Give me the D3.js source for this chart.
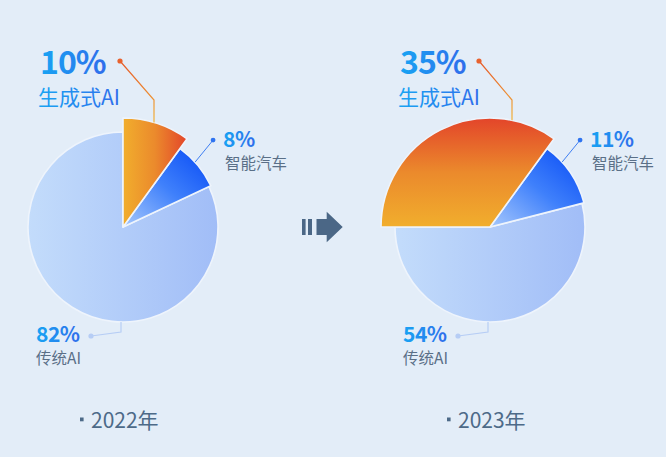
<!DOCTYPE html>
<html>
<head>
<meta charset="utf-8">
<script src="https://cdn.jsdelivr.net/npm/d3@7"></script>
<style>
  html, body { margin: 0; padding: 0; background: #e3edf8; }
  svg { display: block; }
</style>
</head>
<body>
<div id="chart"></div>
<script>
// data
const years = ["2022年", "2023年"];
const categories = ["生成式AI", "智能汽车", "传统AI"];
const share2022 = [10, 8, 82];
const share2023 = [35, 11, 54];

const width = 666;
const height = 457;
const font = "'Noto Sans CJK SC', 'Noto Sans', sans-serif";

// layout for each pie (left / right)
const layout = [
  { cx: 123, cy: 227, genX: 40, genDot: -3, genElbow: 31, orangeDir: [0, 0, 1, 0] },
  { cx: 490, cy: 227, genX: 400, genDot: -11, genElbow: 22, orangeDir: [0, 1, 0, 0] }
];
const radii = [109, 97, 95];

const svg = d3.select("#chart").append("svg")
  .attr("width", width)
  .attr("height", height);

svg.append("rect").attr("width", width).attr("height", height).attr("fill", "#e3edf8");

const defs = svg.append("defs");
const lin = (id, x1, y1, x2, y2, stops) => {
  const g = defs.append("linearGradient").attr("id", id)
    .attr("x1", x1).attr("y1", y1).attr("x2", x2).attr("y2", y2);
  stops.forEach((c, i) => g.append("stop").attr("offset", i / (stops.length - 1)).attr("stop-color", c));
};
layout.forEach((l, i) => {
  const [x1, y1, x2, y2] = l.orangeDir;
  lin("orange" + i, x1, y1, x2, y2, ["#f1ae2d", "#eb8a2c", "#e3452a"]);
});
lin("blue", 0, 1, 1, 0, ["#a6c8fc", "#3f80fb", "#0548f5"]);
lin("light", 0, 0, 1, 0, ["#c3dcfb", "#a1bdf7"]);
lin("pct", 0, 0, 1, 0, ["#18a4f3", "#2f6deb"]);
lin("orangeLine", 0, 0, 0, 1, ["#e65a2a", "#f1b43a"]);

const sliceFill = (i, p) => i === 0 ? `url(#orange${p})` : i === 1 ? "url(#blue)" : "url(#light)";
const turn = 2 * Math.PI;

[share2022, share2023].forEach((shares, p) => {
  const l = layout[p];
  // orange slice always ends at the 10% mark
  const start = 0.1 * turn - shares[0] / 100 * turn;
  const pie = d3.pie().sort(null).value(d => d.value).startAngle(start).endAngle(start + turn);
  const arcs = pie(shares.map((v, i) => ({ name: categories[i], value: v, i })));

  const g = svg.append("g").attr("transform", `translate(${l.cx},${l.cy})`);

  // draw light first, then blue, then orange on top
  g.selectAll("path")
    .data(arcs.slice().reverse())
    .join("path")
    .attr("d", d => d3.arc().innerRadius(0).outerRadius(radii[d.data.i])(d))
    .attr("fill", d => sliceFill(d.data.i, p))
    .attr("stroke", "#eef4fc")
    .attr("stroke-width", 1.6)
    .attr("stroke-linejoin", "round");

  // 生成式AI leader
  const ex = l.genElbow;
  const ey = -Math.sqrt(radii[0] * radii[0] - ex * ex);
  g.append("path")
    .attr("d", `M${l.genDot},${61 - l.cy} L${ex},${100 - l.cy} L${ex},${ey}`)
    .attr("fill", "none")
    .attr("stroke", "url(#orangeLine)")
    .attr("stroke-width", 1.2);
  g.append("circle").attr("cx", l.genDot).attr("cy", 61 - l.cy).attr("r", 2.6).attr("fill", "#e8622e");

  // 智能汽车 leader
  const a = 48 * Math.PI / 180;
  const bx = radii[1] * Math.sin(a), by = -radii[1] * Math.cos(a);
  const bdx = bx + 18, bdy = by - 22;
  g.append("line")
    .attr("x1", bx).attr("y1", by).attr("x2", bdx).attr("y2", bdy)
    .attr("stroke", "#3f7ff2").attr("stroke-width", 1);
  g.append("circle").attr("cx", bdx).attr("cy", bdy).attr("r", 2.4).attr("fill", "#2f74f0");

  // 传统AI leader
  const ly = Math.sqrt(radii[2] * radii[2] - 4);
  g.append("path")
    .attr("d", `M-2,${ly} L-2,${ly + 10} L-32,${ly + 14}`)
    .attr("fill", "none").attr("stroke", "#b6cdf5").attr("stroke-width", 1.2);
  g.append("circle").attr("cx", -32).attr("cy", ly + 14).attr("r", 2.6).attr("fill", "#b6cdf5");

  // labels
  const t = svg.append("g").attr("font-family", font);
  t.append("text").attr("x", l.genX).attr("y", 74)
    .attr("font-size", 32).attr("font-weight", 700).attr("letter-spacing", -1).attr("fill", "url(#pct)")
    .text(shares[0] + "%");
  t.append("text").attr("x", l.genX - 2).attr("y", 105)
    .attr("font-size", 21).attr("fill", "url(#pct)")
    .text(categories[0]);

  t.append("text").attr("x", l.cx + bdx + 10).attr("y", 147)
    .attr("font-size", 21).attr("font-weight", 700).attr("letter-spacing", -0.5).attr("fill", "url(#pct)")
    .text(shares[1] + "%");
  t.append("text").attr("x", l.cx + bdx + 12).attr("y", 169)
    .attr("font-size", 15.5).attr("fill", "#5a6f87")
    .text(categories[1]);

  t.append("text").attr("x", l.cx - 87).attr("y", 342)
    .attr("font-size", 21).attr("font-weight", 700).attr("letter-spacing", -0.5).attr("fill", "url(#pct)")
    .text(shares[2] + "%");
  t.append("text").attr("x", l.cx - 87).attr("y", 364)
    .attr("font-size", 15.5).attr("fill", "#5a6f87")
    .text(categories[2]);

  // year
  t.append("rect").attr("x", l.cx - 43).attr("y", 417.5).attr("width", 3.6).attr("height", 3.8).attr("fill", "#4d6a88");
  t.append("text").attr("x", l.cx - 32).attr("y", 428)
    .attr("font-size", 21).attr("fill", "#4d6a88")
    .text(years[p]);
});

// arrow between pies
const arrow = svg.append("g").attr("fill", "#4b6786");
arrow.append("rect").attr("x", 302).attr("y", 219).attr("width", 3.6).attr("height", 16);
arrow.append("rect").attr("x", 308).attr("y", 219).attr("width", 4).attr("height", 16);
arrow.append("path").attr("d", "M316.5,219 L326.7,219 L326.7,211.7 L342.7,227 L326.7,242.3 L326.7,235 L316.5,235 Z");
</script>
</body>
</html>
